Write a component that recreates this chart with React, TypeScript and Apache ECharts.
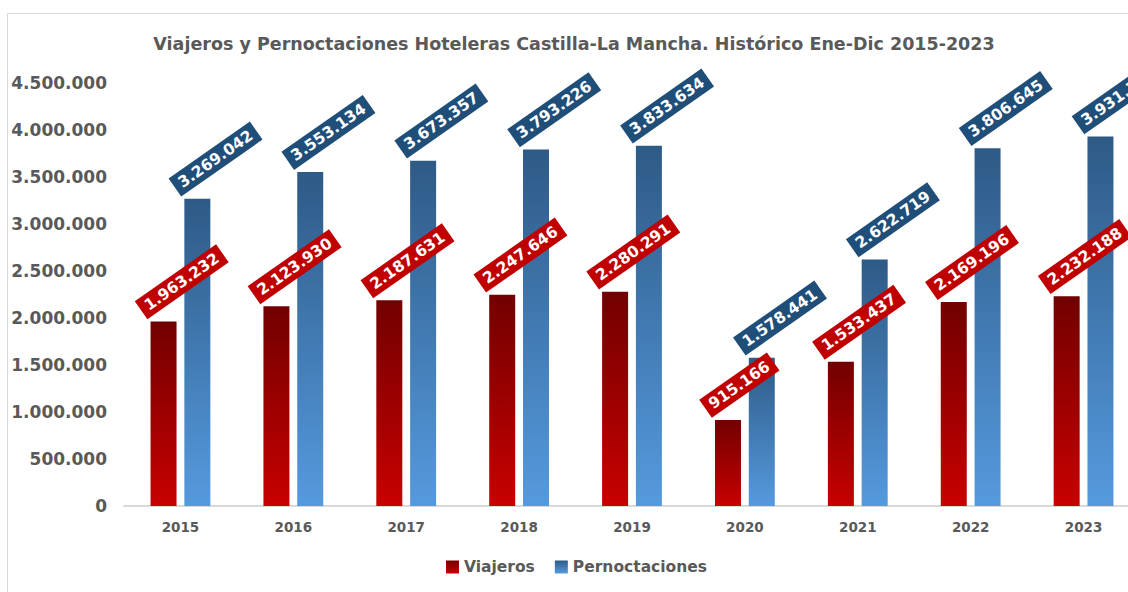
import React, { useEffect, useRef } from "react";
import * as echarts from "echarts";

const years = ["2015", "2016", "2017", "2018", "2019", "2020", "2021", "2022", "2023"];
const viajeros = [1963232, 2123930, 2187631, 2247646, 2280291, 915166, 1533437, 2169196, 2232188];
const pernoctaciones = [3269042, 3553134, 3673357, 3793226, 3833634, 1578441, 2622719, 3806645, 3931311];
const titleText = "Viajeros y Pernoctaciones Hoteleras Castilla-La Mancha. Histórico Ene-Dic 2015-2023";

const fmt = (v: number) => String(Math.round(v)).replace(/\B(?=(\d{3})+(?!\d))/g, ".");
const FONT = "DejaVu Sans";

const redGrad = new echarts.graphic.LinearGradient(0, 0, 0, 1, [
  { offset: 0, color: "#720000" },
  { offset: 1, color: "#C80000" },
]);
const blueGrad = new echarts.graphic.LinearGradient(0, 0, 0, 1, [
  { offset: 0, color: "#2E5A86" },
  { offset: 1, color: "#559ADE" },
]);

const labelCfg = (bg: string) => ({
  show: true,
  position: "top",
  distance: 0,
  rotate: 35,
  align: "left",
  verticalAlign: "middle",
  offset: [-12, -22],
  color: "#ffffff",
  fontFamily: FONT,
  fontWeight: "bold",
  fontSize: 15.5,
  backgroundColor: bg,
  padding: [3, 6],
  formatter: (p: any) => fmt(p.value),
});

export default function App() {
  const ref = useRef<HTMLDivElement>(null);
  useEffect(() => {
    const chart = echarts.init(ref.current!, null, { renderer: "svg" });
    chart.setOption({
      animation: false,
      backgroundColor: "#ffffff",
      graphic: [
        {
          type: "rect",
          shape: { x: 7.5, y: 13.5, width: 1300, height: 700 },
          style: { fill: "none", stroke: "#D9D9D9", lineWidth: 1 },
          silent: true,
        },
      ],
      title: {
        text: titleText,
        left: 569,
        textAlign: "center",
        top: 30,
        textStyle: { fontFamily: FONT, fontWeight: "bold", fontSize: 17.5, color: "#595959" },
      },
      legend: {
        bottom: 12,
        left: 441,
        itemWidth: 13,
        itemHeight: 13,
        itemGap: 20,
        icon: "rect",
        textStyle: { fontFamily: FONT, fontWeight: "bold", fontSize: 15.5, color: "#595959" },
        data: ["Viajeros", "Pernoctaciones"],
      },
      grid: { left: 124, right: 0, top: 83, bottom: 86, containLabel: false },
      xAxis: {
        type: "category",
        data: years,
        axisLine: { lineStyle: { color: "#D9D9D9", width: 2 } },
        axisTick: { show: false },
        axisLabel: { fontFamily: FONT, fontWeight: "bold", fontSize: 13.5, color: "#595959", margin: 14 },
      },
      yAxis: {
        type: "value",
        min: 0,
        max: 4500000,
        interval: 500000,
        splitLine: { show: false },
        axisLine: { show: false },
        axisTick: { show: false },
        axisLabel: {
          fontFamily: FONT,
          fontWeight: "bold",
          fontSize: 17,
          color: "#595959",
          margin: 17,
          formatter: (v: number) => fmt(v),
        },
      },
      series: [
        {
          name: "Viajeros",
          type: "bar",
          data: viajeros,
          barWidth: 26,
          barGap: "30%",
          itemStyle: { color: redGrad },
          label: labelCfg("#C00000"),
        },
        {
          name: "Pernoctaciones",
          type: "bar",
          data: pernoctaciones,
          barWidth: 26,
          barGap: "30%",
          itemStyle: { color: blueGrad },
          label: labelCfg("#1F4E79"),
        },
      ],
    });
    return () => chart.dispose();
  }, []);
  return (
    <div style={{ position: "absolute", left: 0, top: 0, width: 1128, height: 592, overflow: "hidden" }}>
      <div ref={ref} style={{ width: 1140, height: 592 }} />
    </div>
  );
}
